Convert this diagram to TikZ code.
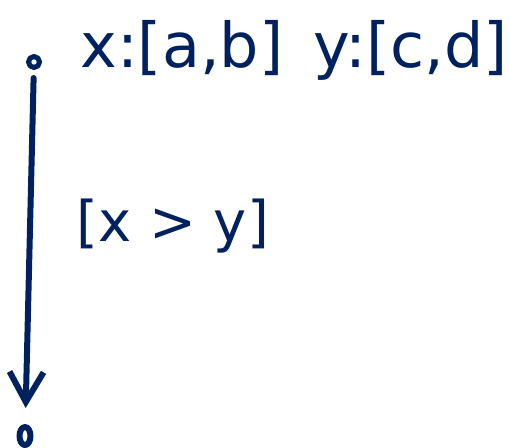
\documentclass[tikz,border=0pt]{standalone}
\usepackage{fontspec}
\setmainfont{DejaVu Sans}
\usetikzlibrary{arrows.meta,shapes.geometric}
\definecolor{inkNavy}{RGB}{0,33,96}
\begin{document}
\begin{tikzpicture}[x=0.5pt,y=-0.5pt,
    inkLine/.style={inkNavy,line width=3pt,line cap=round,line join=round},
    stateDot/.style={draw,inkLine,line width=2.5pt,circle,minimum size=5.5pt,inner sep=0pt},
    finalDot/.style={draw,inkLine,ellipse,minimum width=5.5pt,minimum height=9pt,inner sep=0pt},
    inkText/.style={inkNavy,anchor=west,inner sep=0pt},
    trans/.style={inkLine,-{Straight Barb[length=15pt,width=17pt,line width=3pt]},shorten <=4pt,shorten >=8pt},
]
\useasboundingbox (0,0) rectangle (509,447);
% states
\node[stateDot] (start) at (34,62) {};
\node[finalDot] (stop) at (25,436) {};
% variable ranges
\node[inkText,font=\fontsize{31}{36}\selectfont] (vars) at (80,50) {x:[a,b]\, y:[c,d]};
% transition with its guard
\draw[trans] (start) -- (stop);
\node[inkText,font=\fontsize{28}{34}\selectfont] (guard) at (76,226) {[x > y]};
\end{tikzpicture}
\end{document}
